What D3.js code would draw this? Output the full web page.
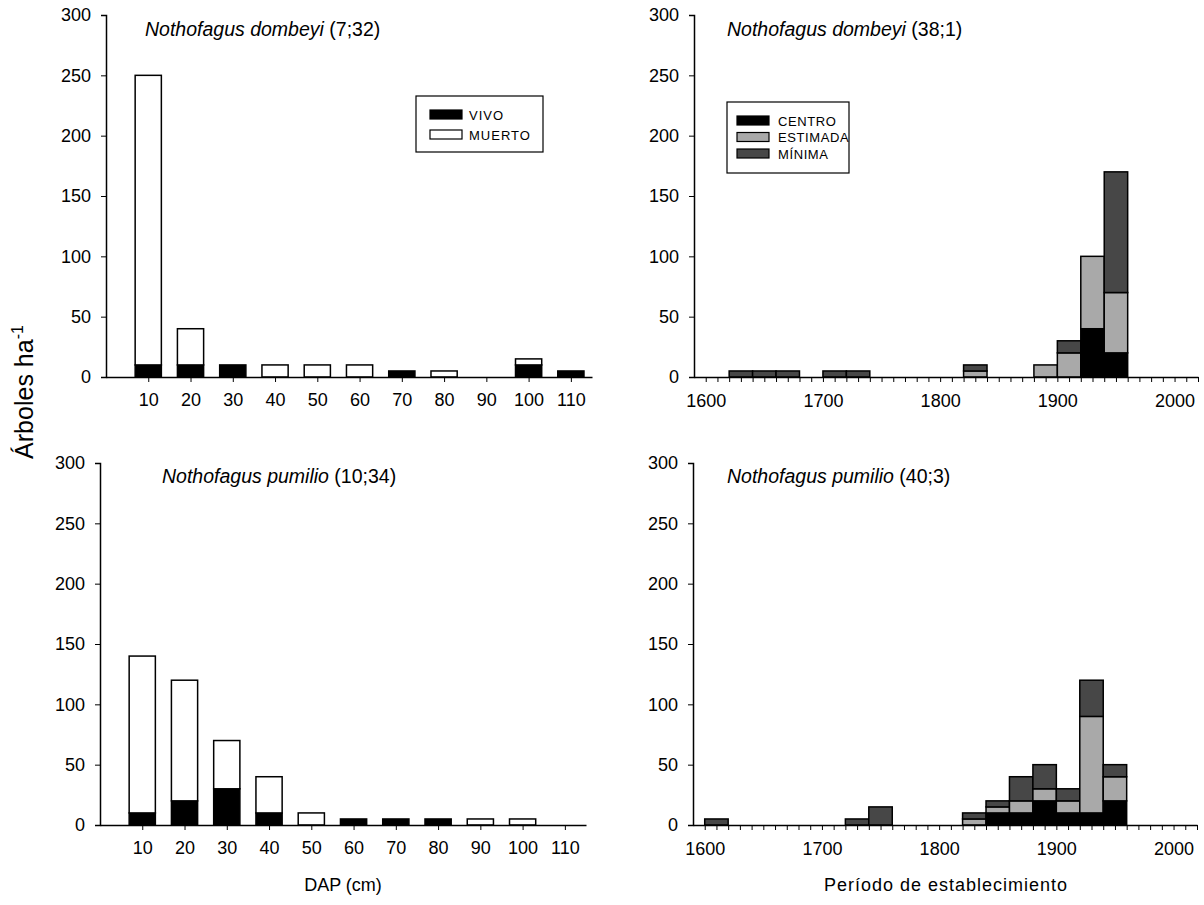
<!DOCTYPE html>
<html>
<head>
<meta charset="utf-8">
<script src="https://cdn.jsdelivr.net/npm/d3@7"></script>
<style>
  body { margin: 0; background: #fff; }
  text { font-family: "Liberation Sans", Arial, sans-serif; fill: #000; }
</style>
</head>
<body>
<script>
// clases diametricas (DAP, cm)
var dapClases = [10, 20, 30, 40, 50, 60, 70, 80, 90, 100, 110];
var vivoDombeyi = [10, 10, 10, 0, 0, 0, 5, 0, 0, 10, 5];
var muertoDombeyi = [240, 30, 0, 10, 10, 10, 0, 5, 0, 5, 0];
var vivoPumilio = [10, 20, 30, 10, 0, 5, 5, 5, 0, 0, 0];
var muertoPumilio = [130, 100, 40, 30, 10, 0, 0, 0, 5, 5, 0];

// periodos de establecimiento (inicio de clase de 20 años)
var periodos = [1600, 1620, 1640, 1660, 1680, 1700, 1720, 1740, 1760, 1780, 1800, 1820, 1840, 1860, 1880, 1900, 1920, 1940];
var centroDombeyi   = [0, 0, 0, 0, 0, 0, 0, 0, 0, 0, 0, 0, 0, 0, 0, 0, 40, 20];
var estimadaDombeyi = [0, 0, 0, 0, 0, 0, 0, 0, 0, 0, 0, 5, 0, 0, 10, 20, 60, 50];
var minimaDombeyi   = [0, 5, 5, 5, 0, 5, 5, 0, 0, 0, 0, 5, 0, 0, 0, 10, 0, 100];
var centroPumilio   = [0, 0, 0, 0, 0, 0, 0, 0, 0, 0, 0, 0, 10, 10, 20, 10, 10, 20];
var estimadaPumilio = [0, 0, 0, 0, 0, 0, 0, 0, 0, 0, 0, 5, 5, 10, 10, 10, 80, 20];
var minimaPumilio   = [5, 0, 0, 0, 0, 0, 5, 15, 0, 0, 0, 5, 5, 20, 20, 10, 30, 10];

var yTicks = [0, 50, 100, 150, 200, 250, 300];

var svg = d3.select("body").append("svg")
    .attr("width", 1204).attr("height", 905);

function yAxis(g, y) {
    g.call(d3.axisLeft(y).tickValues(yTicks).tickSize(5).tickPadding(10));
    g.selectAll("text").style("font-size", "18px");
}

function title(x, y, especie, nota) {
    var t = svg.append("text").attr("x", x).attr("y", y).style("font-size", "19.5px");
    t.append("tspan").style("font-style", "italic").text(especie);
    t.append("tspan").text(" " + nota);
}

// ---- paneles DAP ----
function panelDap(x0, y0, vivo, muerto) {
    var x = d3.scaleLinear().domain([0, 115]).range([x0, x0 + 486]);
    var y = d3.scaleLinear().domain([0, 300]).range([y0, y0 - 362]);
    var w = x(6.2) - x(0);
    var g = svg.append("g");

    dapClases.forEach(function (c, i) {
        if (vivo[i] > 0) {
            g.append("rect")
                .attr("x", x(c) - w / 2).attr("y", y(vivo[i]))
                .attr("width", w).attr("height", y(0) - y(vivo[i]))
                .attr("fill", "#000").attr("stroke", "#000").attr("stroke-width", 1.5);
        }
        if (muerto[i] > 0) {
            g.append("rect")
                .attr("x", x(c) - w / 2).attr("y", y(vivo[i] + muerto[i]))
                .attr("width", w).attr("height", y(vivo[i]) - y(vivo[i] + muerto[i]))
                .attr("fill", "#fff").attr("stroke", "#000").attr("stroke-width", 1.5);
        }
    });

    var ax = svg.append("g").attr("transform", "translate(0," + y0 + ")")
        .call(d3.axisBottom(x).tickValues(dapClases).tickSize(5).tickPadding(11).tickSizeOuter(0));
    ax.selectAll("text").style("font-size", "18px");
    var ay = svg.append("g").attr("transform", "translate(" + x0 + ",0)");
    yAxis(ay, y);
    svg.selectAll(".domain").attr("stroke-width", 1.5);
}

// ---- paneles periodo ----
var colores = { centro: "#000", estimada: "#a9a9a9", minima: "#474747" };

function panelPeriodo(x0, y0, centro, estimada, minima) {
    var x = d3.scaleLinear().domain([1590, 2020]).range([x0, x0 + 504]);
    var y = d3.scaleLinear().domain([0, 300]).range([y0, y0 - 362]);
    var g = svg.append("g");

    periodos.forEach(function (p, i) {
        var partes = [["centro", centro[i]], ["estimada", estimada[i]], ["minima", minima[i]]];
        var base = 0;
        partes.forEach(function (pt) {
            if (pt[1] > 0) {
                g.append("rect")
                    .attr("x", x(p)).attr("y", y(base + pt[1]))
                    .attr("width", x(p + 20) - x(p)).attr("height", y(base) - y(base + pt[1]))
                    .attr("fill", colores[pt[0]]).attr("stroke", "#000").attr("stroke-width", 1.5);
            }
            base += pt[1];
        });
    });

    var ax = svg.append("g").attr("transform", "translate(0," + y0 + ")")
        .call(d3.axisBottom(x).tickValues(d3.range(1600, 2021, 10)).tickSize(5).tickPadding(12).tickSizeOuter(0)
            .tickFormat(function (d) { return d % 100 === 0 ? d : ""; }));
    ax.selectAll("text").style("font-size", "18px");
    var ay = svg.append("g").attr("transform", "translate(" + x0 + ",0)");
    yAxis(ay, y);
    svg.selectAll(".domain").attr("stroke-width", 1.5);
}

panelDap(106, 377, vivoDombeyi, muertoDombeyi);
panelDap(100, 825, vivoPumilio, muertoPumilio);
panelPeriodo(694, 377, centroDombeyi, estimadaDombeyi, minimaDombeyi);
panelPeriodo(693, 825, centroPumilio, estimadaPumilio, minimaPumilio);

title(145, 36, "Nothofagus dombeyi", "(7;32)");
title(727, 36, "Nothofagus dombeyi", "(38;1)");
title(162, 483, "Nothofagus pumilio", "(10;34)");
title(727, 483, "Nothofagus pumilio", "(40;3)");

// leyenda DAP
svg.append("rect").attr("x", 416).attr("y", 96).attr("width", 127).attr("height", 56)
    .attr("fill", "#fff").attr("stroke", "#000").attr("stroke-width", 1.2);
[["VIVO", "#000"], ["MUERTO", "#fff"]].forEach(function (d, i) {
    svg.append("rect").attr("x", 430).attr("y", 110 + i * 20).attr("width", 32).attr("height", 9)
        .attr("fill", d[1]).attr("stroke", "#000").attr("stroke-width", 1.2);
    svg.append("text").attr("x", 469).attr("y", 119.5 + i * 20).style("font-size", "13px")
        .style("letter-spacing", "1px").text(d[0]);
});

// leyenda periodo
svg.append("rect").attr("x", 727).attr("y", 102).attr("width", 122).attr("height", 71)
    .attr("fill", "#fff").attr("stroke", "#000").attr("stroke-width", 1.2);
[["CENTRO", colores.centro], ["ESTIMADA", colores.estimada], ["MÍNIMA", colores.minima]].forEach(function (d, i) {
    svg.append("rect").attr("x", 737).attr("y", 116 + i * 16.5).attr("width", 32).attr("height", 9)
        .attr("fill", d[1]).attr("stroke", "#000").attr("stroke-width", 1.2);
    svg.append("text").attr("x", 778).attr("y", 125.5 + i * 16.5).style("font-size", "13px")
        .style("letter-spacing", "0.6px").text(d[0]);
});

// titulos de ejes
var yl = svg.append("text").attr("transform", "translate(33,392) rotate(-90)")
    .attr("text-anchor", "middle").style("font-size", "25px");
yl.append("tspan").text("Árboles ha");
yl.append("tspan").attr("dy", -10).style("font-size", "16px").text("-1");

svg.append("text").attr("x", 343).attr("y", 891).attr("text-anchor", "middle")
    .style("font-size", "18px").text("DAP (cm)");
svg.append("text").attr("x", 946).attr("y", 891).attr("text-anchor", "middle")
    .style("font-size", "18px").style("letter-spacing", "1px").text("Período de establecimiento");
</script>
</body>
</html>
